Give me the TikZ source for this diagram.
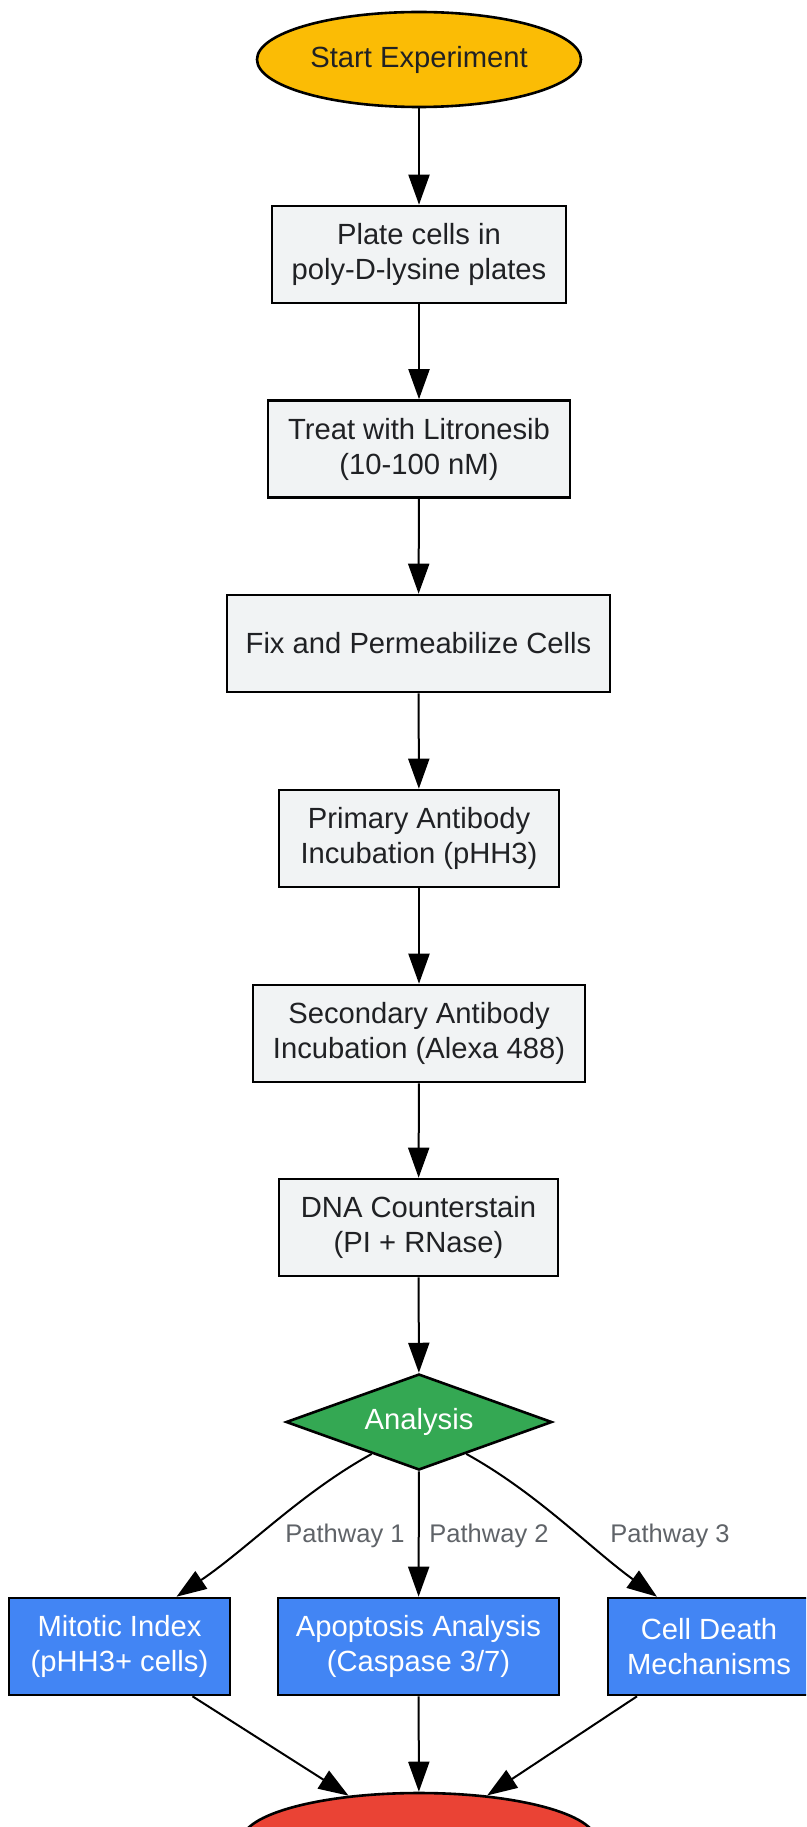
\documentclass[tikz,border=0pt]{standalone}
\usepackage{fontspec}
\setmainfont{Liberation Sans}
\usetikzlibrary{arrows.meta,shapes.geometric}
\definecolor{startyel}{HTML}{FBBC05}
\definecolor{boxgray}{HTML}{F1F3F4}
\definecolor{textdark}{HTML}{202124}
\definecolor{decgreen}{HTML}{34A853}
\definecolor{resblue}{HTML}{4285F4}
\definecolor{endred}{HTML}{EA4335}
\definecolor{lblgray}{HTML}{5F6368}
\begin{document}
\begin{tikzpicture}[x=1pt,y=-1pt,
  mainfont/.style={font=\fontsize{29.2}{35}\selectfont},
  stepbox/.style={draw=black, line width=2.6pt, fill=boxgray, text=textdark, minimum height=97pt, inner sep=0pt, align=center, mainfont},
  resbox/.style={draw=black, line width=2.6pt, fill=resblue, text=white, minimum height=97pt, inner sep=0pt, align=center, mainfont},
  oval/.style={ellipse, draw=black, line width=2.6pt, inner sep=0pt, mainfont},
  decision/.style={diamond, aspect=2.77, draw=black, line width=2.6pt, fill=decgreen, text=white, inner sep=0pt, minimum width=266pt, minimum height=96pt, mainfont},
  arr/.style={draw=black, line width=2pt, -{Triangle[length=30pt,width=21pt]}},
  lbl/.style={text=lblgray, font=\fontsize{25.5}{30}\selectfont, inner sep=0pt}
]
\useasboundingbox (0,0) rectangle (806,1827);
\clip (0,0) rectangle (806,1827);
\fill[white] (0,0) rectangle (806,1827);

\node[oval, fill=startyel, text=textdark, minimum width=324pt, minimum height=95pt] (start) at (419,59.5) {Start Experiment};
\node[stepbox, minimum width=294pt] (plate) at (419,254.5) {Plate cells in\\poly-D-lysine plates};
\node[stepbox, minimum width=302pt] (treat) at (419,449) {Treat with Litronesib\\(10-100 nM)};
\node[stepbox, minimum width=383pt] (fix) at (418.5,643.5) {Fix and Permeabilize Cells};
\node[stepbox, minimum width=280pt] (primary) at (419,838.5) {Primary Antibody\\Incubation (pHH3)};
\node[stepbox, minimum width=332pt] (secondary) at (419,1033.5) {Secondary Antibody\\Incubation (Alexa 488)};
\node[stepbox, minimum width=279pt] (dna) at (418.5,1227.5) {DNA Counterstain\\(PI + RNase)};
\node[decision] (analysis) at (419,1422) {Analysis};
\node[resbox, minimum width=221pt] (mitotic) at (119.5,1646.5) {Mitotic Index\\(pHH3+ cells)};
\node[resbox, minimum width=281pt] (apoptosis) at (418.5,1646.5) {Apoptosis Analysis\\(Caspase 3/7)};
\node[resbox, minimum width=202pt] (celldeath) at (709,1646.5) {Cell Death\\Mechanisms};
\node[oval, fill=endred, minimum width=354pt, minimum height=95pt] (finish) at (419,1840.5) {};

\draw[arr] (start) -- (plate);
\draw[arr] (plate) -- (treat);
\draw[arr] (treat) -- (fix);
\draw[arr] (fix) -- (primary);
\draw[arr] (primary) -- (secondary);
\draw[arr] (secondary) -- (dna);
\draw[arr] (dna) -- (analysis);

\draw[arr] (analysis.214) .. controls (301,1493) and (247,1549) .. ([xshift=57pt]mitotic.north);
\draw[arr] (analysis) -- (apoptosis);
\draw[arr] (analysis.326) .. controls (537,1493) and (591,1549) .. ([xshift=-52pt]celldeath.north);

\node[lbl] (l1) at (345,1536) {Pathway 1};
\node[lbl] (l2) at (489,1536) {Pathway 2};
\node[lbl] (l3) at (670,1536) {Pathway 3};

\draw[arr] ([xshift=73pt]mitotic.south) -- (finish);
\draw[arr] (apoptosis) -- (finish);
\draw[arr] ([xshift=-72pt]celldeath.south) -- (finish);
\end{tikzpicture}
\end{document}
